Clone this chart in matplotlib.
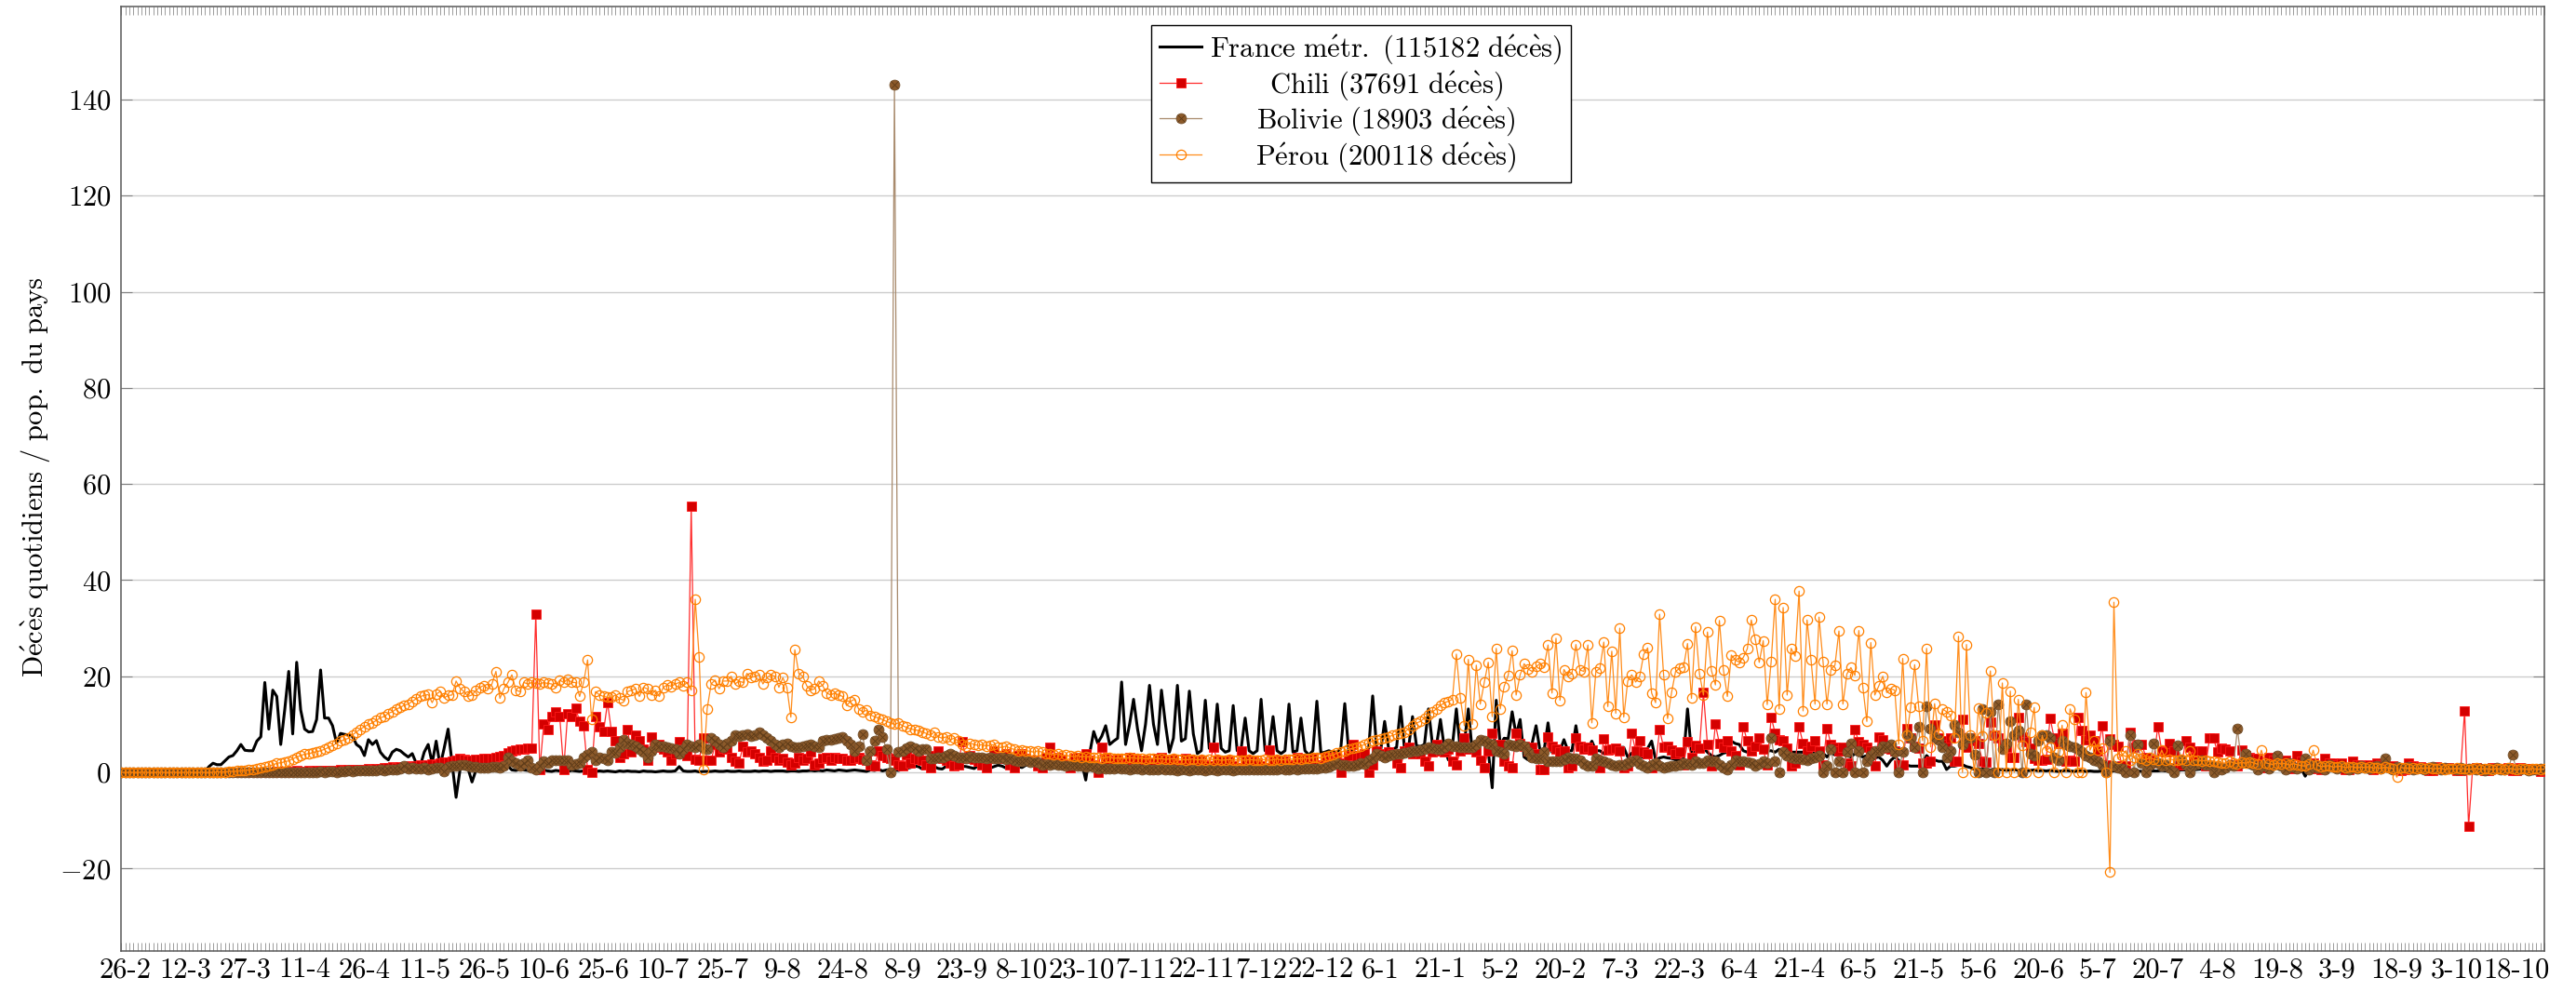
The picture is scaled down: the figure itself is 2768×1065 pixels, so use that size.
import numpy as np
import pandas as pd
import matplotlib
matplotlib.use("Agg")
import matplotlib.pyplot as plt
from matplotlib.legend_handler import HandlerTuple

plt.rcParams.update({
    "font.family": "cmr10",
    "mathtext.fontset": "cm",
    "axes.unicode_minus": False,
    "axes.formatter.use_mathtext": True,
})

# -----------------------------
# Data: daily deaths per million inhabitants, one value per day from 25-2-2020
# (each row below = one 15-day interval between two x tick labels)
# -----------------------------
start_date = "2020-02-25"

france = [
    0, 0, 0, 0, 0, 0, 0, 0, 0, 0, 0, 0, 0, 0.1, 0.1, 0.1,
    0.1, 0.1, 0.1, 0.1, 0.1, 0.2, 1.2, 1.9, 1.6, 1.6, 2.4, 3.2, 3.5, 4.5, 5.8,
    4.6, 4.5, 4.5, 6.5, 7.4, 18.7, 9.0, 17.1, 15.8, 5.8, 13.0, 21.0, 8.0, 22.9, 13.0,
    9.0, 8.4, 8.5, 11.0, 21.3, 11.3, 11.3, 9.7, 6.1, 8.1, 7.9, 7.8, 7.5, 5.8, 5.2,
    3.5, 6.8, 5.8, 6.6, 4.2, 3.2, 2.6, 4.2, 4.8, 4.5, 3.8, 3.2, 3.9, 1.9, 1.3,
    4.2, 5.8, 1.9, 6.5, 1.3, 5.0, 9.0, 1.9, -5.2, 0.6, 1.0, 0.8, -2.0, 0.5, 0.6,
    0.8, 0.5, 0.4, 0.6, 0.9, 0.6, 1.3, 0.5, 0.4, 0.6, 0.5, 0.4, 0.3, 0.5, 0.4,
    0.5, 0.3, 0.2, 0.4, 0.3, 0.3, 0.2, 0.4, 0.3, 0.2, 0.3, 0.4, 0.2, 0.2, 0.3,
    0.2, 0.3, 0.2, 0.1, 0.3, 0.2, 0.3, 0.2, 0.2, 0.1, 0.3, 0.2, 0.2, 0.1, 0.2,
    0.3, 0.2, 0.2, 0.3, 1.2, 0.3, 0.2, 0.2, 0.3, 0.1, 0.2, 0.2, 0.2, 0.3, 0.2,
    0.2, 0.3, 0.2, 0.2, 0.3, 0.2, 0.2, 0.2, 0.3, 0.2, 0.3, 0.3, 0.2, 0.3, 0.3,
    0.3, 0.2, 0.3, 0.3, 0.2, 0.3, 0.3, 0.4, 0.3, 0.4, 0.3, 0.5, 0.4, 0.3, 0.5,
    0.4, 0.3, 0.4, 0.5, 0.4, 0.3, 0.2, 0.5, 0.4, 0.6, 0.3, 0.5, 0.6, 0.5, 0.4,
    0.6, 0.8, 1.0, 1.3, 1.2, 0.7, 0.9, 1.3, 1.2, 0.8, 0.7, 1.3, 1.1, 0.9, 0.8,
    1.3, 1.2, 1.0, 0.8, 1.4, 1.3, 1.0, 0.9, 1.2, 1.5, 1.3, 0.9, 1.4, 1.6, 1.2,
    1.0, 1.5, 1.6, 1.4, 1.2, 1.6, 1.8, 1.5, 1.3, 1.9, 2.0, 1.6, 2.2, 2.5, 3.2,
    2.0, -1.6, 4.0, 8.5, 6.1, 7.5, 9.7, 5.8, 6.5, 7.1, 18.8, 5.8, 10.0, 15.2, 9.0,
    4.5, 10.0, 18.1, 10.0, 5.8, 17.1, 10.0, 4.2, 7.1, 18.1, 6.5, 7.0, 16.9, 8.0, 3.9,
    4.5, 15.0, 5.0, 4.5, 14.2, 5.0, 4.2, 4.5, 13.9, 4.5, 5.0, 11.3, 4.5, 3.9, 4.5,
    15.2, 4.5, 5.0, 11.6, 4.5, 3.9, 4.5, 14.2, 4.2, 4.5, 11.3, 4.5, 3.6, 4.5, 14.8,
    4.0, 4.2, 4.5, 4.2, 4.2, 5.0, 14.3, 4.2, 4.5, 4.0, 3.9, 4.2, 5.0, 15.9, 5.0,
    4.5, 10.6, 5.0, 4.8, 5.2, 13.7, 4.8, 5.0, 11.6, 5.5, 5.4, 5.8, 13.2, 5.8, 5.5,
    11.0, 5.0, 2.6, 5.5, 13.2, 4.5, 6.0, 13.2, 4.2, 5.0, 6.5, 7.1, 4.5, -3.2, 15.0,
    5.8, 7.1, 7.0, 12.6, 7.7, 11.0, 3.2, 2.6, 6.0, 9.7, 4.5, 4.5, 10.3, 4.2, 4.5,
    4.5, 6.8, 4.5, 4.5, 9.7, 4.5, 4.5, 4.8, 6.5, 4.5, 4.5, 3.9, 4.2, 4.5, 4.2,
    5.2, 5.2, 3.2, 4.0, 3.9, 3.5, 3.0, 5.0, 6.5, 2.6, 3.0, 3.2, 3.0, 2.9, 2.6,
    2.6, 2.8, 13.2, 4.2, 4.5, 5.8, 5.0, 4.2, 3.5, 3.2, 3.5, 4.0, 4.2, 6.5, 6.0,
    5.8, 4.5, 4.2, 4.5, 5.8, 5.0, 4.8, 4.5, 4.5, 4.2, 4.8, 4.5, 4.5, 4.2, 4.2,
    4.2, 4.2, 4.5, 4.2, 3.9, 4.5, 4.0, 3.2, 4.2, 3.6, 3.5, 4.2, 3.5, 3.2, 3.9,
    3.5, 3.2, 3.5, 2.3, 3.0, 3.2, 2.5, 1.3, 2.5, 3.2, 2.5, 1.6, 1.5, 1.3, 1.3,
    1.3, 2.0, 3.5, 2.6, 2.6, 2.3, 2.3, 0.6, 1.3, 1.3, 1.5, 1.6, 1.2, 1.0, 0.6,
    0.6, 0.8, 0.6, 0.5, 0.7, 0.5, 0.6, 0.4, 0.5, 0.6, 0.4, 0.5, 0.3, 0.4, 0.5,
    0.3, 0.4, 0.3, 0.4, 0.3, 0.2, 0.3, 0.4, 0.3, 0.2, 0.3, 0.3, 0.2, 0.3, 0.2,
    0.2, 0.3, 0.2, 0.2, 0.3, 0.2, 0.2, 0.3, 0.2, 0.2, 0.3, 0.2, 0.2, 0.3, 0.3,
    0.3, 0.4, 0.3, 0.3, 0.4, 0.4, 0.5, 0.5, 0.6, 0.5, 0.6, 0.7, 0.6, 0.7, 0.8,
    0.8, 0.9, 1.0, 0.9, 1.1, 1.0, 1.2, 1.1, 1.0, 1.2, 1.1, 1.0, 1.2, 1.0, 0.9,
    1.1, 1.0, 0.9, 1.0, 1.1, 0.9, 0.8, -0.8, 0.9, 0.8, 0.9, 0.7, 0.8, 0.7, 0.8,
    0.7, 0.6, 0.7, 0.6, 0.6, 0.5, 0.6, 0.5, 0.5, 0.6, 0.5, 0.4, 0.5, 0.4, 0.4,
    0.4, 0.3, 0.4, 0.3, 0.4, 0.3, 0.3, 0.4, 0.3, 0.3, 0.3, 0.2, 0.3, 0.3, 0.2,
    0.3, 0.2, 0.3, 0.2, 0.2, 0.3, 0.2, 0.3, 0.2, 0.2, 0.3, 0.2, 0.2, 0.3, 0.2,
    0.2, 0.3, 0.2, 0.2, 0.3, 0.2, 0.3, 0.2,
]

chili = [
    0, 0, 0, 0, 0, 0, 0, 0, 0, 0, 0, 0, 0, 0, 0, 0,
    0, 0, 0, 0, 0, 0, 0, 0, 0, 0, 0, 0, 0, 0, 0,
    0, 0, 0.1, 0, 0.1, 0, 0.1, 0.1, 0.2, 0.1, 0.2, 0.1, 0.2, 0.3, 0.2,
    0.2, 0.3, 0.2, 0.3, 0.4, 0.3, 0.4, 0.3, 0.4, 0.5, 0.4, 0.5, 0.6, 0.5, 0.6,
    0.6, 0.7, 0.6, 0.8, 0.7, 0.9, 1.0, 1.1, 0.9, 1.2, 1.1, 1.3, 1.2, 1.4, 1.5,
    1.4, 1.6, 1.7, 1.6, 1.9, 2.1, 2.2, 2.4, 2.6, 2.9, 2.7, 2.6, 2.6, 2.7, 2.8,
    2.9, 2.9, 3.0, 3.2, 3.3, 3.5, 4.0, 4.5, 4.6, 4.8, 4.9, 5.0, 5.0, 32.9, 0.6,
    10.0, 9.0, 11.7, 12.6, 11.7, 0.6, 12.3, 11.7, 13.4, 10.6, 9.7, 0.6, 0.1, 11.7, 9.4,
    8.5, 14.5, 8.5, 6.5, 3.2, 3.9, 8.9, 4.2, 7.7, 6.5, 4.8, 2.6, 7.4, 5.2, 5.8,
    4.8, 4.2, 2.6, 3.9, 6.3, 4.8, 3.5, 55.3, 2.7, 2.6, 7.1, 2.5, 2.5, 5.8, 4.2,
    5.0, 4.8, 3.2, 2.3, 1.9, 5.5, 4.2, 4.5, 3.9, 3.2, 2.3, 2.6, 4.5, 3.2, 2.6,
    2.9, 2.1, 1.6, 1.9, 3.2, 2.6, 2.9, 4.2, 1.6, 1.9, 3.0, 3.2, 2.6, 3.2, 3.0,
    2.9, 2.6, 2.6, 3.0, 3.2, 2.8, 2.6, 1.5, 1.3, 4.4, 3.5, 3.2, 2.9, 2.6, 1.6,
    1.3, 3.6, 1.9, 3.0, 2.8, 2.6, 1.5, 1.0, 3.5, 4.5, 2.9, 2.6, 1.9, 1.3, 1.5,
    6.3, 3.0, 3.5, 2.8, 2.4, 1.6, 1.0, 3.0, 4.5, 3.2, 3.0, 3.9, 1.6, 1.0, 3.5,
    3.9, 3.0, 2.6, 2.3, 1.3, 1.0, 3.2, 5.2, 2.9, 3.2, 2.6, 1.5, 1.0, 3.0, 3.2,
    2.6, 3.9, 2.6, 1.6, 0.0, 5.2, 3.0, 2.6, 2.3, 2.8, 1.9, 1.3, 3.2, 2.8, 2.6,
    2.3, 2.6, 1.9, 1.3, 2.9, 3.2, 2.6, 2.3, 2.8, 1.6, 1.2, 2.9, 2.6, 2.6, 2.3,
    2.6, 1.6, 1.3, 5.2, 2.6, 2.3, 2.6, 2.3, 1.3, 1.0, 4.4, 2.6, 2.3, 2.6, 2.0,
    1.3, 1.0, 4.6, 2.3, 2.6, 2.6, 2.3, 1.6, 1.3, 3.2, 2.9, 2.6, 2.6, 3.0, 1.6,
    1.3, 3.2, 3.2, 2.9, 3.3, 0.0, 2.0, 3.5, 5.8, 3.2, 3.5, 3.9, 0.0, 1.6, 4.5,
    3.9, 3.5, 4.2, 3.9, 1.9, 1.0, 4.5, 5.2, 3.9, 4.5, 3.9, 2.3, 1.3, 4.2, 5.8,
    4.5, 4.2, 4.8, 2.3, 1.6, 4.5, 7.1, 4.8, 5.2, 4.2, 2.6, 1.0, 4.5, 8.1, 5.5,
    5.8, 2.3, 1.3, 1.0, 8.1, 6.0, 5.5, 4.5, 5.2, 3.9, 0.6, 0.6, 7.4, 5.5, 4.8,
    4.2, 4.5, 1.0, 1.3, 7.1, 5.5, 4.8, 5.2, 4.6, 1.6, 1.0, 7.0, 4.6, 4.8, 5.0,
    4.4, 1.0, 1.3, 8.1, 4.5, 6.5, 4.2, 3.9, 1.0, 1.6, 8.9, 5.2, 5.5, 4.6, 3.9,
    4.2, 1.6, 6.3, 3.2, 5.6, 5.0, 16.6, 5.8, 1.3, 10.0, 6.0, 5.2, 6.5, 4.4, 3.5,
    1.6, 9.5, 6.5, 4.5, 5.5, 7.1, 4.8, 1.6, 11.5, 8.1, 6.8, 6.5, 5.0, 1.3, 1.9,
    9.4, 6.1, 4.5, 5.5, 6.5, 4.5, 1.6, 9.2, 5.8, 5.2, 4.5, 5.2, 1.9, 1.3, 8.9,
    6.3, 5.8, 5.2, 4.5, 1.3, 7.4, 6.8, 5.0, 4.8, 4.5, 1.6, 1.6, 9.2, 7.1, 5.5,
    5.0, 1.9, 1.9, 2.3, 9.8, 7.1, 6.5, 5.8, 7.1, 2.3, 2.3, 11.1, 5.2, 7.1, 6.5,
    6.0, 2.3, 2.1, 10.5, 7.7, 7.1, 6.0, 5.2, 3.2, 3.1, 11.5, 7.4, 6.3, 5.0, 2.9,
    2.6, 2.6, 2.7, 11.3, 7.1, 6.0, 8.1, 2.3, 2.6, 2.3, 11.5, 8.7, 6.8, 7.7, 6.5,
    4.5, 9.7, 1.6, 7.0, 5.8, 5.5, 1.3, 1.3, 8.4, 5.2, 5.8, 5.9, 3.2, 1.9, 2.6,
    9.5, 4.5, 4.2, 6.1, 4.5, 1.6, 1.6, 6.5, 5.2, 3.2, 4.5, 4.5, 1.3, 7.1, 7.1,
    4.2, 5.0, 4.8, 4.5, 1.6, 1.3, 4.6, 3.5, 3.2, 2.9, 3.0, 1.3, 1.0, 3.2, 2.6,
    2.9, 2.3, 2.6, 1.0, 0.8, 3.5, 2.3, 2.1, 2.0, 1.9, 0.8, 0.6, 2.9, 2.0, 1.9,
    1.6, 1.9, 0.6, 0.5, 2.3, 1.6, 1.5, 1.3, 1.5, 0.5, 1.9, 1.6, 1.3, 1.2, 1.3,
    1.0, 0.4, 0.5, 1.9, 1.3, 1.0, 1.2, 1.0, 0.4, 0.3, 1.2, 1.0, 0.9, 1.0, 0.8,
    0.3, 0.4, 12.8, -11.2, 0.8, 0.9, 0.8, 0.3, 0.3, 0.9, 0.8, 0.7, 0.8, 0.9, 0.3,
    0.3, 0.9, 0.8, 0.7, 0.8, 0.6, 0.2, 0.3,
]

bolivie = [
    0, 0, 0, 0, 0, 0, 0, 0, 0, 0, 0, 0, 0, 0, 0, 0,
    0, 0, 0, 0, 0, 0, 0, 0, 0, 0, 0, 0, 0, 0, 0,
    0, 0, 0, 0, 0, 0, 0, 0, 0, 0, 0, 0.1, 0, 0.1, 0.1,
    0.1, 0.1, 0.1, 0.1, 0.2, 0.1, 0.2, 0.2, 0.1, 0.2, 0.2, 0.3, 0.2, 0.3, 0.3,
    0.3, 0.4, 0.3, 0.4, 0.5, 0.4, 0.5, 0.6, 0.5, 0.7, 1.3, 0.8, 0.9, 0.7, 0.8,
    0.9, 0.6, 0.8, 1.0, 0.9, 0.2, 1.2, 1.4, 1.3, 1.6, 1.5, 1.3, 1.2, 1.1, 1.0,
    1.0, 0.9, 1.1, 1.2, 1.0, 1.3, 3.1, 2.3, 2.0, 1.3, 1.9, 2.6, 1.0, 0.6, 1.3,
    2.3, 2.0, 2.6, 2.6, 2.5, 2.6, 2.6, 1.6, 1.8, 1.9, 3.2, 3.6, 4.2, 2.6, 3.2,
    2.9, 2.6, 4.2, 4.0, 5.2, 6.8, 6.1, 5.8, 5.5, 4.8, 4.2, 3.2, 4.5, 5.8, 5.5,
    5.5, 5.2, 5.0, 4.8, 3.9, 4.8, 5.8, 5.5, 5.3, 5.8, 5.0, 4.8, 7.1, 6.5, 5.8,
    5.2, 6.0, 6.5, 7.7, 7.5, 7.7, 7.9, 7.6, 7.7, 8.4, 7.8, 7.1, 6.5, 5.8, 5.2,
    5.8, 6.1, 5.5, 5.3, 5.2, 5.5, 5.6, 5.8, 5.5, 5.2, 6.5, 6.8, 6.8, 7.0, 7.2,
    7.4, 6.5, 5.8, 4.5, 5.5, 7.9, 2.6, 4.5, 6.5, 9.0, 7.4, 4.8, 0.0, 143.0, 4.2,
    4.5, 5.0, 5.5, 5.0, 4.5, 4.8, 4.8, 2.9, 2.9, 3.2, 3.2, 3.5, 3.9, 3.5, 3.2,
    3.2, 3.0, 3.3, 3.2, 3.1, 3.2, 3.0, 3.2, 2.9, 3.0, 3.2, 2.8, 3.0, 2.6, 2.3,
    2.3, 2.5, 2.2, 2.3, 2.1, 1.6, 1.8, 1.6, 1.7, 1.5, 1.6, 1.4, 1.6, 1.5, 1.3,
    1.4, 1.2, 1.3, 1.1, 0.8, 0.9, 0.8, 0.7, 0.8, 0.9, 0.7, 0.8, 0.6, 0.7, 0.8,
    0.6, 0.7, 0.6, 0.5, 0.6, 0.7, 0.5, 0.6, 0.5, 0.4, 0.6, 0.5, 0.4, 0.5, 0.6,
    0.5, 0.4, 0.5, 0.5, 0.4, 0.5, 0.6, 0.5, 0.4, 0.5, 0.5, 0.6, 0.5, 0.5, 0.6,
    0.5, 0.6, 0.6, 0.5, 0.6, 0.7, 0.6, 0.6, 0.7, 0.6, 0.7, 0.7, 0.8, 0.7, 0.8,
    0.9, 1.0, 1.2, 1.5, 1.9, 1.6, 1.5, 1.3, 1.4, 1.6, 1.9, 1.8, 2.5, 3.0, 3.9,
    3.5, 3.2, 3.4, 3.6, 3.9, 3.8, 4.0, 4.2, 4.5, 4.4, 4.6, 4.8, 5.2, 5.0, 4.8,
    4.8, 5.2, 6.1, 5.5, 5.4, 5.2, 5.3, 5.2, 5.2, 5.8, 6.8, 6.5, 6.1, 5.8, 4.5,
    4.2, 3.9, 5.8, 5.6, 5.5, 5.8, 5.5, 4.2, 3.2, 2.9, 2.9, 4.2, 2.3, 2.3, 2.3,
    2.3, 2.8, 3.2, 3.0, 2.9, 2.6, 1.8, 1.3, 1.3, 2.9, 2.6, 2.3, 1.9, 1.6, 1.3,
    1.5, 1.6, 2.0, 2.3, 2.6, 1.8, 1.3, 1.0, 1.5, 1.9, 1.3, 1.0, 1.2, 1.3, 1.3,
    1.6, 1.9, 1.7, 1.6, 2.3, 2.0, 1.9, 2.6, 2.4, 2.3, 1.6, 1.0, 0.6, 1.6, 2.6,
    2.4, 2.3, 2.1, 1.9, 1.3, 1.8, 2.3, 2.0, 7.2, 2.3, 0.0, 4.2, 3.5, 3.2, 2.9,
    2.9, 2.7, 2.6, 2.9, 3.2, 3.5, 0.0, 1.3, 4.8, 0.0, 2.3, 0.0, 4.2, 6.1, 0.0,
    4.5, 0.0, 2.3, 3.5, 4.5, 4.5, 5.5, 5.2, 5.8, 4.2, 0.0, 4.2, 7.9, 7.1, 5.2,
    9.4, 0.0, 13.7, 9.2, 7.4, 6.8, 5.2, 3.2, 4.5, 9.8, 8.4, 5.8, 7.1, 7.1, 3.7,
    0.0, 13.2, 0.0, 12.6, 0.0, 14.2, 4.8, 6.1, 10.6, 7.7, 8.7, 0.0, 14.1, 3.9, 3.5,
    6.5, 7.7, 7.7, 7.1, 3.2, 2.6, 6.5, 5.8, 5.5, 5.2, 4.8, 4.2, 3.5, 3.2, 2.6,
    2.3, 1.5, 0.0, 6.5, 1.3, 1.0, 0.8, 0.0, 7.7, 0.0, 5.9, 2.0, 0.0, 1.5, 6.1,
    2.0, 1.3, 1.5, 1.0, 0.0, 5.7, 2.6, 1.5, 0.0, 1.5, 1.8, 2.6, 1.5, 1.6, 0.0,
    1.3, 0.6, 1.0, 1.6, 1.3, 9.1, 1.9, 3.9, 2.3, 1.6, 0.6, 1.3, 1.5, 0.8, 1.6,
    3.5, 1.3, 0.6, 1.9, 1.2, 0.8, 1.3, 2.9, 0.6, 1.6, 1.0, 1.3, 0.6, 1.5, 1.1,
    0.8, 1.3, 1.0, 0.6, 1.2, 0.8, 1.3, 1.0, 0.7, 1.1, 1.3, 0.8, 2.9, 1.0, 0.6,
    1.2, 0.8, 0.9, 1.1, 0.5, 0.8, 1.0, 0.6, 0.9, 1.2, 0.8, 0.6, 0.9, 0.7, 0.8,
    0.6, 0.9, 0.5, 0.8, 0.7, 0.6, 0.8, 0.4, 0.7, 0.6, 0.9, 0.5, 0.6, 0.8, 3.7,
    0.6, 0.5, 0.7, 0.4, 0.6, 0.5, 0.7, 0.6,
]

perou = [
    0, 0, 0, 0, 0, 0, 0, 0, 0, 0, 0, 0, 0, 0, 0, 0,
    0, 0, 0, 0, 0, 0, 0, 0, 0.1, 0.1, 0.1, 0.2, 0.2, 0.3, 0.3,
    0.4, 0.5, 0.6, 0.8, 1.0, 1.1, 1.3, 1.5, 1.9, 2.0, 2.2, 2.4, 2.8, 3.2, 3.5,
    3.8, 3.9, 4.1, 4.3, 4.5, 4.8, 5.2, 5.6, 6.0, 6.5, 6.8, 7.1, 7.8, 8.4, 9.0,
    9.5, 10.0, 10.3, 10.8, 11.4, 11.6, 12.3, 12.6, 13.2, 13.5, 14.0, 14.2, 14.8, 15.3, 15.8,
    16.0, 16.2, 14.5, 16.3, 16.8, 15.5, 16.0, 16.1, 19.0, 17.5, 16.8, 15.8, 16.1, 17.1, 17.7,
    18.1, 17.4, 18.4, 21.0, 15.4, 17.4, 18.7, 20.3, 17.1, 16.8, 18.7, 18.4, 18.7, 18.5, 18.4,
    18.7, 18.5, 18.4, 17.7, 19.2, 18.7, 19.4, 18.7, 18.7, 15.8, 18.7, 23.4, 11.0, 16.8, 16.1,
    15.8, 15.6, 15.6, 16.1, 15.4, 15.0, 16.8, 17.1, 17.4, 15.8, 17.7, 17.4, 16.1, 17.1, 15.8,
    17.7, 18.2, 17.9, 18.4, 18.7, 18.0, 18.7, 17.1, 36.0, 24.0, 0.5, 13.2, 18.4, 19.2, 17.4,
    19.0, 19.0, 20.0, 18.4, 19.0, 18.7, 20.6, 19.7, 20.0, 20.3, 18.4, 19.7, 20.3, 20.0, 17.7,
    19.7, 17.7, 11.5, 25.5, 20.6, 20.0, 18.0, 17.1, 17.4, 19.0, 18.0, 16.5, 16.1, 16.5, 16.1,
    15.8, 13.9, 14.8, 15.2, 13.2, 12.6, 12.9, 11.9, 11.6, 11.3, 11.0, 10.6, 10.3, 10.0, 10.3,
    9.7, 9.4, 9.0, 8.9, 8.7, 8.4, 8.1, 7.7, 8.4, 7.4, 7.1, 7.4, 6.8, 7.1, 6.5,
    5.8, 5.5, 6.1, 5.8, 5.6, 5.8, 5.5, 5.6, 5.8, 5.2, 5.2, 5.5, 5.0, 4.8, 4.5,
    4.6, 4.5, 4.4, 4.2, 4.5, 4.2, 3.9, 3.8, 3.6, 3.9, 3.5, 3.6, 3.4, 3.3, 3.5,
    3.2, 3.3, 3.2, 3.1, 3.2, 3.0, 3.1, 3.2, 2.9, 3.0, 3.0, 2.9, 3.1, 3.0, 2.9,
    3.0, 2.8, 2.9, 3.0, 2.8, 2.9, 2.7, 2.8, 2.9, 2.7, 2.8, 2.6, 2.7, 2.8, 2.6,
    2.7, 2.6, 2.8, 2.6, 2.7, 2.5, 2.6, 2.7, 2.5, 2.6, 2.6, 2.5, 2.7, 2.6, 2.5,
    2.6, 2.7, 2.5, 2.6, 2.8, 2.6, 2.7, 2.8, 2.7, 2.9, 2.8, 3.0, 2.9, 3.1, 3.2,
    3.0, 3.3, 3.5, 3.6, 4.0, 4.2, 4.5, 4.8, 5.0, 5.2, 5.5, 5.8, 6.2, 6.5, 6.8,
    7.0, 7.2, 7.4, 7.7, 8.0, 8.2, 8.4, 9.0, 9.6, 10.3, 10.6, 11.3, 12.0, 12.6, 13.2,
    13.9, 14.5, 14.8, 15.2, 24.6, 15.5, 9.7, 23.5, 10.0, 22.3, 14.2, 18.7, 22.9, 11.6, 25.8,
    13.2, 17.9, 20.2, 25.3, 16.1, 20.3, 22.6, 21.5, 21.0, 22.0, 22.6, 21.9, 26.5, 16.5, 27.9,
    15.0, 21.4, 20.0, 20.6, 26.6, 21.3, 21.0, 26.5, 10.3, 21.0, 21.6, 27.1, 13.7, 25.2, 12.3,
    30.0, 11.5, 19.0, 20.3, 18.8, 20.0, 24.5, 25.9, 16.5, 14.5, 32.9, 20.3, 11.2, 16.6, 21.0,
    21.6, 21.9, 26.8, 15.4, 30.3, 20.5, 16.1, 29.2, 21.2, 18.2, 31.6, 21.4, 15.8, 24.4, 23.4,
    22.9, 23.9, 25.7, 31.7, 27.7, 22.9, 27.4, 14.1, 23.1, 36.0, 13.2, 34.3, 16.1, 25.8, 24.2,
    37.7, 12.8, 31.7, 23.4, 14.2, 32.3, 23.1, 14.2, 21.4, 22.3, 29.4, 14.2, 20.5, 21.8, 20.2,
    29.5, 17.7, 10.6, 27.0, 16.1, 18.0, 20.0, 16.6, 17.4, 17.1, 5.9, 23.7, 7.7, 13.5, 22.4,
    13.7, 6.6, 25.8, 5.3, 14.3, 7.9, 13.2, 12.6, 11.9, 7.1, 28.3, 0.0, 26.6, 7.7, 0.0,
    13.4, 7.6, 12.4, 21.1, 7.7, 0.0, 18.6, 0.0, 16.9, 0.0, 15.2, 5.7, 0.0, 8.4, 13.5,
    0.0, 7.7, 4.5, 5.2, 0.0, 4.2, 9.8, 0.0, 13.2, 11.0, 0.0, 0.0, 16.6, 4.6, 6.5,
    4.6, 5.0, 0.0, -20.8, 35.4, 2.9, 3.5, 4.5, 2.6, 3.1, 3.9, 2.9, 2.6, 3.2, 2.7,
    2.6, 4.6, 2.6, 2.8, 2.6, 2.5, 2.7, 2.6, 4.4, 2.5, 2.6, 2.4, 2.5, 2.3, 2.4,
    2.2, 2.0, 1.9, 2.3, 2.0, 1.8, 2.1, 1.9, 2.2, 2.0, 1.7, 4.6, 2.0, 1.8, 1.6,
    2.0, 1.7, 1.9, 1.5, 1.8, 1.6, 1.4, 1.3, 1.7, 4.6, 1.5, 1.2, 1.3, 1.4, 1.1,
    1.2, 1.3, 1.0, 1.1, 1.2, 0.9, 1.1, 1.0, 1.2, 0.9, 1.0, 0.8, 1.1, 0.9, 0.8,
    -1.0, 1.0, 0.9, 0.8, 1.0, 0.7, 0.9, 0.8, 1.0, 0.7, 0.8, 0.9, 0.6, 0.8, 0.7,
    0.9, 0.7, 0.8, 0.6, 0.7, 0.9, 0.6, 0.8, 0.7, 0.6, 0.8, 0.7, 0.6, 0.9, 0.7,
    0.6, 0.8, 0.7, 0.6, 0.8, 0.7, 0.6, 0.7,
]

labels = [
    "France métr. (115182 décès)",
    "Chili (37691 décès)",
    "Bolivie (18903 décès)",
    "Pérou (200118 décès)",
]
ylabel = "Décès quotidiens / pop. du pays"
yticks = [-20, 0, 20, 40, 60, 80, 100, 120, 140]


def tex(s):
    # Computer Modern through mathtext, accents included
    s = s.replace(" ", r"\ ").replace("é", r"\acute{e}").replace("è", r"\grave{e}")
    return r"$\mathrm{" + s + "}$"


# -----------------------------
# Figure
# -----------------------------
fig = plt.figure(figsize=(27.68, 10.65), dpi=100)
ax = fig.add_axes([0.0471, 0.0407, 0.9406, 0.9525])

h_fr, = ax.plot(np.arange(len(france)), france, color="black", lw=2.2, zorder=3)
h_cl, = ax.plot(np.arange(len(chili)), chili, color="#ff2a2a", lw=0.9,
                marker="s", ms=7.6, mfc="#d40000", mec="#ff1a1a", mew=0.6, zorder=4)
x_bo = np.arange(len(bolivie))
h_bo, = ax.plot(x_bo, bolivie, color="#a88a6c", lw=0.9,
                marker="o", ms=7.8, mfc="#8c5a2a", mec="#74502c", mew=0.6, zorder=5)
h_bx, = ax.plot(x_bo, bolivie, ls="none", marker="x", ms=5.2, mec="#5e3b18",
                mew=0.6, zorder=5)
h_pe, = ax.plot(np.arange(len(perou)), perou, color="#ff8c1a", lw=0.9,
                marker="o", ms=7.4, mfc="none", mec="#ff8000", mew=0.9, zorder=6)

# axes limits and ticks
dates = pd.date_range(start_date, periods=len(france), freq="D")
major = np.arange(1, len(france), 15)
xlabels = [f"{d.day}-{d.month}" for d in dates[major]]

ax.set_xlim(0, len(france) - 1)
ax.set_ylim(-37.1, 159.3)
ax.set_xticks(major)
ax.set_xticklabels(xlabels, fontsize=22)
ax.set_xticks(np.arange(0, len(france)), minor=True)
ax.tick_params(axis="x", which="both", direction="in", top=True, bottom=True,
               length=6.7, width=0.6, color="0.55", pad=5)
ax.set_yticks(yticks)
ax.set_yticklabels([f"${v}$" for v in yticks], fontsize=22)
ax.tick_params(axis="y", which="both", direction="in", left=True, right=True,
               length=8.4, width=0.8, color="0.5", pad=8)
ax.grid(axis="y", color="0.8", lw=1.0)
ax.set_axisbelow(True)
for s in ax.spines.values():
    s.set_color("0.35")
    s.set_linewidth(1.1)

fig.text(38 / 2768, 1 - 513 / 1065, tex(ylabel), rotation=90, fontsize=22,
         ha="center", va="center")

# legend, entries centred like pgfplots
leg = ax.legend([h_fr, h_cl, (h_bo, h_bx), h_pe], [tex(l) for l in labels],
                handler_map={tuple: HandlerTuple(ndivide=1)},
                loc="upper center", bbox_to_anchor=(0.5117, 0.981), fontsize=22,
                frameon=True, fancybox=False, edgecolor="black", framealpha=1,
                handlelength=1.45, handletextpad=0.3, borderpad=0.3,
                labelspacing=0.1, borderaxespad=0)
leg.get_frame().set_linewidth(1.0)

fig.canvas.draw()
texts = leg.get_texts()
widths = [t.get_window_extent().width for t in texts]
wmax = max(widths)
for t, w in zip(texts, widths):
    t.set_position(((wmax - w) / 2, 0))

fig.savefig("out.png", dpi=100)
